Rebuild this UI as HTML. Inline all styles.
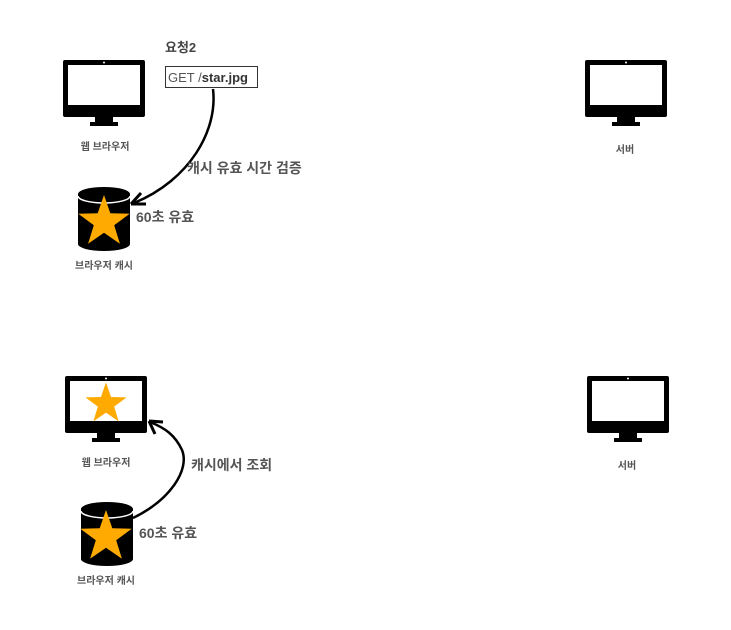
<!DOCTYPE html>
<html><head><meta charset="utf-8"><style>
html,body{margin:0;padding:0;background:#fff;}
svg{display:block;}
text{font-family:"Liberation Sans","Noto Sans CJK KR",sans-serif;font-weight:bold;}
</style></head><body>
<svg width="731" height="630" viewBox="0 0 731 630" xmlns="http://www.w3.org/2000/svg">
<defs>
<g id="mon">
  <rect x="0" y="0" width="82" height="57" rx="2" fill="#000"/>
  <rect x="5" y="5" width="72" height="40" fill="#fff"/>
  <circle cx="41" cy="2.5" r="1" fill="#fff"/>
  <rect x="32" y="56" width="18" height="7" fill="#000"/>
  <rect x="27" y="62" width="28" height="4" fill="#000"/>
</g>
<g id="cyl">
  <path d="M0 7 A26 7 0 0 1 52 7 L52 57 A26 7 0 0 1 0 57 Z" fill="#000"/>
  <path d="M0 9 A26 7 0 0 0 52 9" fill="none" stroke="#fff" stroke-width="1.5"/>
</g>
<polygon id="star" points="0,-27 6.3,-8.7 25.7,-8.3 10.2,3.3 15.9,21.8 0,10.8 -15.9,21.8 -10.2,3.3 -25.7,-8.3 -6.3,-8.7" fill="#FFAA00"/>
</defs>

<use href="#mon" x="63" y="60"/>
<text x="105" y="150" font-size="10" fill="#555" text-anchor="middle">웹 브라우저</text>
<use href="#cyl" x="78" y="187"/>
<use href="#star" x="104" y="222"/>
<text x="104" y="269" font-size="10" fill="#555" text-anchor="middle">브라우저 캐시</text>
<text x="165" y="52" font-size="13" fill="#444">요청2</text>
<rect x="165.5" y="66.5" width="92" height="21" fill="#fff" stroke="#333" stroke-width="1"/>
<text x="168" y="82" font-size="13" fill="#555" style="font-weight:normal">GET /<tspan style="font-weight:bold" fill="#333">star.jpg</tspan></text>
<path d="M213 89 C218 130 190 180 134 203" fill="none" stroke="#000" stroke-width="2.5"/>
<path d="M131 204 L141 193 M131 204 L146 204" stroke="#000" stroke-width="3" fill="none"/>
<text x="187" y="173" font-size="14" fill="#555">캐시 유효 시간 검증</text>
<text x="136" y="222" font-size="14" fill="#555">60초 유효</text>
<use href="#mon" x="585" y="60"/>
<text x="625" y="153" font-size="10" fill="#555" text-anchor="middle">서버</text>

<use href="#mon" x="65" y="376"/>
<use href="#star" transform="translate(106,404) scale(0.8)"/>
<text x="106" y="466" font-size="10" fill="#555" text-anchor="middle">웹 브라우저</text>
<use href="#cyl" x="81" y="502"/>
<use href="#star" x="106" y="537"/>
<text x="106" y="584" font-size="10" fill="#555" text-anchor="middle">브라우저 캐시</text>
<path d="M133 518 C170 500 190 470 182 450 C175 435 165 428 150 422" fill="none" stroke="#000" stroke-width="2.5"/>
<path d="M149 421 L163 422 M149 421 L155 434" stroke="#000" stroke-width="3" fill="none"/>
<text x="191" y="470" font-size="14" fill="#555">캐시에서 조회</text>
<text x="139" y="538" font-size="14" fill="#555">60초 유효</text>
<use href="#mon" x="587" y="376"/>
<text x="627" y="469" font-size="10" fill="#555" text-anchor="middle">서버</text>
</svg>
</body></html>
